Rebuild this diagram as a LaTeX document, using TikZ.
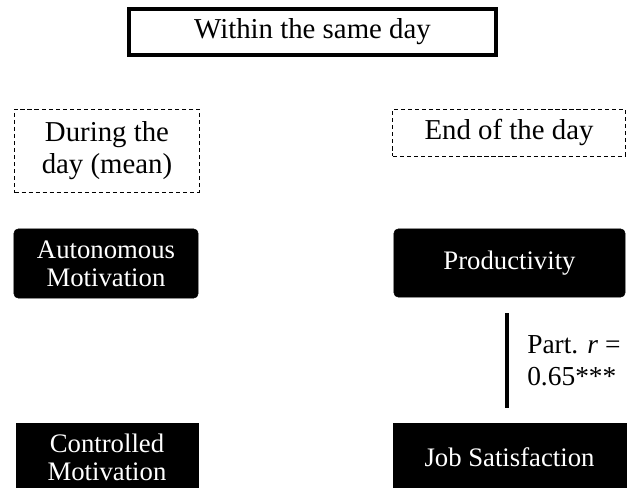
\documentclass[tikz,border=0pt]{standalone}
\usepackage{fontspec}
\setmainfont{Liberation Serif}
\usetikzlibrary{positioning}

\begin{document}
\begin{tikzpicture}[
        x=0.025cm, y=-0.025cm,
        heading/.style={rectangle, draw, line width=2.8pt, minimum width=9.175cm, minimum height=1.15cm, align=center, font=\fontsize{20.5}{22.8}\selectfont},
        period/.style={rectangle, draw, dash pattern=on 3pt off 2pt, line width=0.7pt, align=center, inner sep=0pt, font=\fontsize{20.5}{22.8}\selectfont},
        construct/.style={rectangle, rounded corners=3pt, draw, fill=black, text=white, align=center, inner sep=0pt, minimum height=1.725cm, font=\fontsize{19}{20}\selectfont},
        link/.style={line width=2.8pt},
        corrtext/.style={align=left, inner sep=0pt, font=\fontsize{19.5}{22.8}\selectfont}
    ]
        \clip (0,0) rectangle (627,488);

        % Title
        \node[heading] (title) at (312.5, 32) {Within the same day};

        % Time points
        \node[period, minimum width=4.625cm, minimum height=2.075cm] (during) at (107, 150.5) {During the\\day (mean)};
        \node[period, minimum width=5.8cm, minimum height=1.175cm] (endday) at (509, 132.5) {End of the day};

        % Predictors
        \node[construct, minimum width=4.6cm] (auton) at (106, 263.5) {Autonomous\\Motivation};
        \node[construct, sharp corners, minimum width=4.55cm] (ctrl) at (107, 457.5) {Controlled\\Motivation};

        % Outcomes
        \node[construct, minimum width=5.775cm, minimum height=1.7cm] (prod) at (509.5, 263) {Productivity};
        \node[construct, sharp corners, minimum width=5.825cm] (job) at (509.5, 457.5) {Job Satisfaction};

        % Partial correlation
        \coordinate (ctop) at ([xshift=-0.0625cm, yshift=-0.4cm]prod.south);
        \coordinate (cbot) at ([xshift=-0.0625cm, yshift=0.375cm]job.north);
        \draw[link] (ctop) -- (cbot);
        \path (ctop) -- (cbot) coordinate[midway] (cmid);
        \node[corrtext, right=0.5cm of cmid] (corr) {Part. \textit{r} =\\0.65***};
    \end{tikzpicture}
\end{document}
